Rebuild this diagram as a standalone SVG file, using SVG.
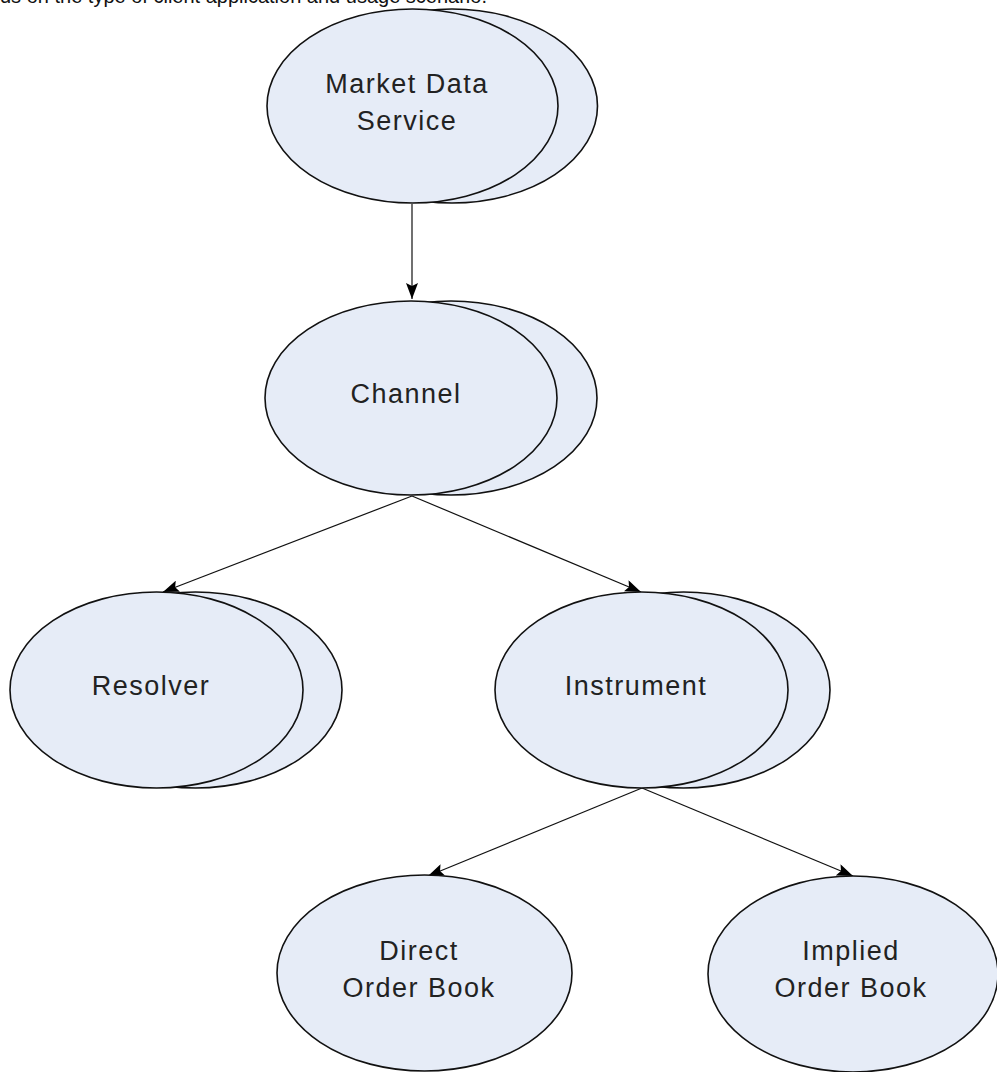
<svg xmlns="http://www.w3.org/2000/svg" width="997" height="1072" viewBox="0 0 997 1072">
  <style>
    .node ellipse { fill: #e6ecf7; stroke: #111; stroke-width: 1.6; }
    .label { font-family: "Liberation Sans", Arial, sans-serif; font-size: 27px; letter-spacing: 1.5px; fill: #222; text-anchor: middle; }
    .caption { font-family: "Liberation Sans", Arial, sans-serif; font-size: 20px; fill: #111; }
    .edge { stroke: #111; stroke-width: 1.2; fill: none; marker-end: url(#arrow); }
  </style>
  <defs>
    <marker id="arrow" viewBox="0 0 16 12" refX="16" refY="6" markerWidth="16" markerHeight="12" markerUnits="userSpaceOnUse" orient="auto">
      <path d="M0,0 L16,6 L0,12 L3,6 Z" fill="#000"/>
    </marker>
  </defs>

  <rect width="997" height="1072" fill="#fff"/>

  <text class="caption" x="0" y="3">ds on the type of client application and usage scenario.</text>

  <g id="connectors">
    <line class="edge" x1="412" y1="204" x2="412" y2="299"/>
    <line class="edge" x1="412" y1="496" x2="163" y2="592"/>
    <line class="edge" x1="412" y1="496" x2="641" y2="592"/>
    <line class="edge" x1="642" y1="788" x2="428" y2="876"/>
    <line class="edge" x1="642" y1="788" x2="853" y2="876"/>
  </g>

  <g id="market-data-service" class="node">
    <ellipse cx="452" cy="106" rx="145.5" ry="97"/>
    <ellipse cx="412.5" cy="106" rx="145.5" ry="97"/>
    <text class="label" x="407" y="93">Market Data</text>
    <text class="label" x="407" y="130">Service</text>
  </g>

  <g id="channel" class="node">
    <ellipse cx="451" cy="398" rx="146" ry="97"/>
    <ellipse cx="411" cy="398" rx="146" ry="97"/>
    <text class="label" x="406" y="403">Channel</text>
  </g>

  <g id="resolver" class="node">
    <ellipse cx="195.5" cy="690" rx="146.5" ry="98"/>
    <ellipse cx="156.5" cy="690" rx="146.5" ry="98"/>
    <text class="label" x="151" y="695">Resolver</text>
  </g>

  <g id="instrument" class="node">
    <ellipse cx="683.5" cy="690" rx="146.5" ry="98"/>
    <ellipse cx="641.5" cy="690" rx="146.5" ry="98"/>
    <text class="label" x="636" y="695">Instrument</text>
  </g>

  <g id="direct-order-book" class="node">
    <ellipse cx="424.5" cy="973" rx="147.5" ry="98"/>
    <text class="label" x="419" y="960">Direct</text>
    <text class="label" x="419" y="997">Order Book</text>
  </g>

  <g id="implied-order-book" class="node">
    <ellipse cx="853" cy="974" rx="145" ry="98"/>
    <text class="label" x="851" y="960">Implied</text>
    <text class="label" x="851" y="997">Order Book</text>
  </g>
</svg>
